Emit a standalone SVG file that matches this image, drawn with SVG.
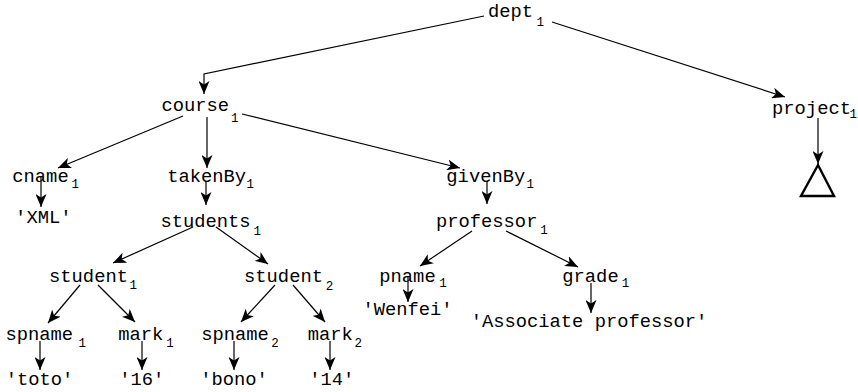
<svg xmlns="http://www.w3.org/2000/svg" width="858" height="392" viewBox="0 0 858 392">
<style>
  .lbl { font-family: "Liberation Mono", "Courier New", monospace; font-size: 18.8px; fill: #000; text-anchor: middle; }
  .sub { font-family: "Liberation Mono", "Courier New", monospace; font-size: 12.5px; fill: #000; }
  .edge { fill: none; stroke: #000; stroke-width: 1.2; marker-end: url(#arr); }
  .tri { fill: none; stroke: #000; stroke-width: 2.4; stroke-linejoin: miter; }
</style>
<defs>
  <marker id="arr" markerUnits="userSpaceOnUse" markerWidth="13" markerHeight="11" refX="13" refY="5.5" orient="auto">
    <path d="M0,0 L13,5.5 L0,11 L3.5,5.5 z" fill="#000"/>
  </marker>
</defs>
<rect width="858" height="392" fill="#fff"/>
<g id="connectors">
  <polyline class="edge" points="484,16 204,74 204,94"/>
  <line class="edge" x1="552" y1="22" x2="785" y2="97"/>
  <line class="edge" x1="183" y1="116" x2="58" y2="168"/>
  <line class="edge" x1="207" y1="117" x2="207" y2="168"/>
  <line class="edge" x1="242" y1="114" x2="460" y2="168"/>
  <line class="edge" x1="41" y1="176" x2="41" y2="207"/>
  <line class="edge" x1="206" y1="181" x2="206" y2="205"/>
  <line class="edge" x1="487" y1="181" x2="487" y2="204"/>
  <line class="edge" x1="193" y1="227" x2="113" y2="263"/>
  <line class="edge" x1="216" y1="227" x2="268" y2="264"/>
  <line class="edge" x1="472" y1="231" x2="420" y2="266"/>
  <line class="edge" x1="506" y1="231" x2="578" y2="267"/>
  <line class="edge" x1="80" y1="285" x2="48" y2="323"/>
  <line class="edge" x1="98" y1="285" x2="135" y2="322"/>
  <line class="edge" x1="275" y1="285" x2="241" y2="322"/>
  <line class="edge" x1="293" y1="285" x2="325" y2="322"/>
  <line class="edge" x1="408" y1="276" x2="408" y2="302"/>
  <line class="edge" x1="591" y1="283" x2="591" y2="313"/>
  <line class="edge" x1="40" y1="341" x2="40" y2="370"/>
  <line class="edge" x1="142" y1="341" x2="142" y2="370"/>
  <line class="edge" x1="234" y1="341" x2="234" y2="370"/>
  <line class="edge" x1="330" y1="341" x2="330" y2="370"/>
  <line class="edge" x1="818" y1="118" x2="818" y2="164"/>
</g>
<g id="dept1"><text class="lbl" x="510.5" y="17">dept</text><text class="sub" x="536.5" y="26">1</text></g>
<g id="course1"><text class="lbl" x="195.3" y="111">course</text><text class="sub" x="231" y="122">1</text></g>
<g id="project1"><text class="lbl" x="811.5" y="114">project</text><text class="sub" x="849.5" y="118">1</text></g>
<g id="triangle"><polygon class="tri" points="818,165 801,196 834,196"/></g>
<g id="cname1"><text class="lbl" x="40.5" y="182">cname</text><text class="sub" x="71.5" y="188">1</text></g>
<g id="takenBy1"><text class="lbl" x="206.7" y="182">takenBy</text><text class="sub" x="246.5" y="188">1</text></g>
<g id="givenBy1"><text class="lbl" x="485.8" y="182">givenBy</text><text class="sub" x="526.5" y="188">1</text></g>
<g id="xml"><text class="lbl" x="43.3" y="223">'XML'</text></g>
<g id="students1"><text class="lbl" x="205.5" y="227">students</text><text class="sub" x="253.5" y="235">1</text></g>
<g id="professor1"><text class="lbl" x="486.7" y="227">professor</text><text class="sub" x="540.2" y="234">1</text></g>
<g id="student1"><text class="lbl" x="88.5" y="282">student</text><text class="sub" x="129.5" y="289">1</text></g>
<g id="student2"><text class="lbl" x="283.5" y="282">student</text><text class="sub" x="325.8" y="290">2</text></g>
<g id="pname1"><text class="lbl" x="407.5" y="282">pname</text><text class="sub" x="439.2" y="287">1</text></g>
<g id="grade1"><text class="lbl" x="590.5" y="282">grade</text><text class="sub" x="621.8" y="287">1</text></g>
<g id="wenfei"><text class="lbl" x="407.5" y="315">'Wenfei'</text></g>
<g id="assoc"><text class="lbl" x="589" y="327">'Associate professor'</text></g>
<g id="spname1"><text class="lbl" x="39.2" y="340">spname</text><text class="sub" x="78.5" y="347">1</text></g>
<g id="mark1"><text class="lbl" x="140.8" y="340">mark</text><text class="sub" x="166.2" y="347">1</text></g>
<g id="spname2"><text class="lbl" x="235" y="340">spname</text><text class="sub" x="271.2" y="347">2</text></g>
<g id="mark2"><text class="lbl" x="330.3" y="340">mark</text><text class="sub" x="354.5" y="347">2</text></g>
<g id="toto"><text class="lbl" x="39.5" y="385">'toto'</text></g>
<g id="v16"><text class="lbl" x="141.7" y="385">'16'</text></g>
<g id="bono"><text class="lbl" x="234" y="385">'bono'</text></g>
<g id="v14"><text class="lbl" x="331.7" y="385">'14'</text></g>
</svg>
